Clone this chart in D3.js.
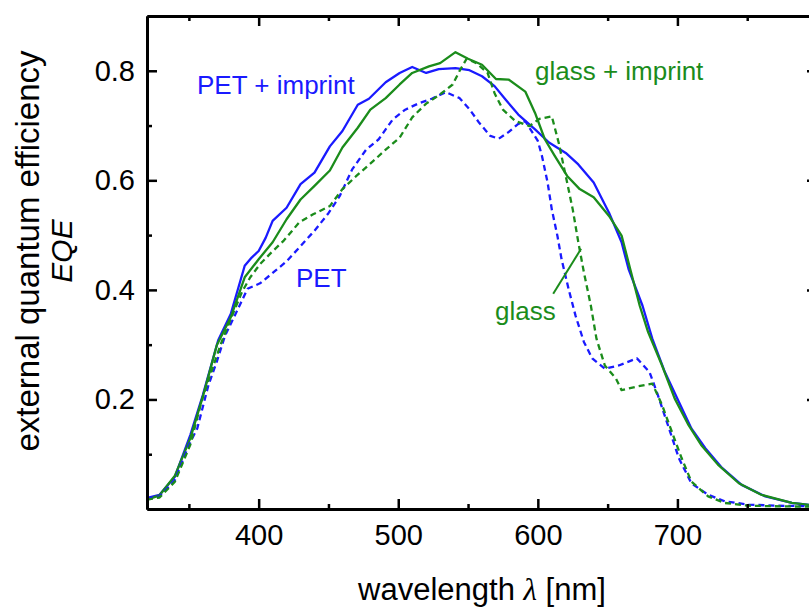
<!DOCTYPE html>
<html>
<head>
<meta charset="utf-8">
<script src="https://cdn.jsdelivr.net/npm/d3@7"></script>
<style>
  body { margin: 0; background: #fff; }
  svg { display: block; }
  .axis path, .axis line { stroke: #000; }
  .axis text { font-family: 'Liberation Sans', Arial, sans-serif; fill: #000; }
</style>
</head>
<body>
<svg id="chart" width="809" height="607"></svg>
<script>
// PET + imprint (blue solid)
const petImprintNm = [320, 329, 340, 351, 360, 371, 380, 390, 395, 400, 405, 410, 420, 430, 440, 451, 460, 471, 479, 491, 501, 510, 520, 529, 541, 551, 560, 569, 577, 586, 598, 608, 620, 629, 640, 651, 660, 665, 675, 682, 691, 701, 710, 720, 732, 746, 763, 782, 800]
const petImprintEqe = [0.020, 0.026, 0.059, 0.135, 0.208, 0.308, 0.356, 0.444, 0.459, 0.471, 0.495, 0.526, 0.550, 0.593, 0.614, 0.662, 0.690, 0.738, 0.749, 0.779, 0.796, 0.807, 0.796, 0.803, 0.805, 0.801, 0.790, 0.772, 0.747, 0.720, 0.693, 0.669, 0.650, 0.629, 0.596, 0.541, 0.487, 0.438, 0.371, 0.311, 0.250, 0.196, 0.147, 0.111, 0.075, 0.044, 0.023, 0.011, 0.006]

// glass + imprint (green solid)
const glassImprintNm = [320, 329, 340, 351, 360, 370, 380, 390, 400, 410, 420, 430, 440, 451, 460, 471, 480, 491, 501, 510, 522, 530, 541, 550, 560, 570, 579, 591, 598, 605, 612, 621, 630, 640, 651, 660, 666, 673, 679, 689, 698, 708, 717, 729, 744, 760, 782, 800]
const glassImprintEqe = [0.017, 0.025, 0.061, 0.129, 0.205, 0.299, 0.350, 0.423, 0.456, 0.487, 0.529, 0.565, 0.590, 0.618, 0.660, 0.696, 0.729, 0.750, 0.775, 0.796, 0.808, 0.814, 0.834, 0.822, 0.811, 0.785, 0.784, 0.762, 0.723, 0.675, 0.645, 0.608, 0.584, 0.569, 0.535, 0.499, 0.440, 0.371, 0.323, 0.262, 0.202, 0.153, 0.117, 0.081, 0.047, 0.026, 0.011, 0.006]

// PET (blue dashed)
const petNm = [320, 329, 340, 350, 356, 364, 370, 376, 384, 392, 401, 412, 420, 430, 440, 450, 458, 467, 477, 486, 496, 505, 515, 524, 534, 544, 551, 558, 566, 572, 579, 586, 591, 600, 603, 607, 610, 614, 617, 622, 627, 633, 639, 648, 658, 671, 680, 686, 694, 701, 710, 722, 734, 751, 770, 800]
const petEqe = [0.019, 0.023, 0.053, 0.117, 0.147, 0.226, 0.269, 0.317, 0.359, 0.402, 0.412, 0.435, 0.452, 0.480, 0.508, 0.540, 0.571, 0.620, 0.656, 0.675, 0.711, 0.729, 0.741, 0.749, 0.761, 0.750, 0.730, 0.705, 0.681, 0.676, 0.688, 0.703, 0.708, 0.672, 0.644, 0.596, 0.547, 0.499, 0.456, 0.402, 0.353, 0.305, 0.275, 0.256, 0.262, 0.275, 0.250, 0.208, 0.147, 0.093, 0.047, 0.026, 0.014, 0.008, 0.006, 0.005]

// glass (green dashed)
const glassNm = [320, 329, 340, 351, 359, 366, 373, 380, 388, 394, 401, 409, 418, 429, 439, 451, 460, 470, 482, 491, 501, 510, 520, 529, 539, 544, 549, 556, 564, 569, 575, 584, 594, 601, 610, 615, 620, 625, 629, 633, 638, 642, 648, 656, 660, 670, 682, 689, 696, 703, 710, 722, 734, 751, 770, 800]
const glassEqe = [0.017, 0.021, 0.050, 0.117, 0.196, 0.250, 0.302, 0.347, 0.396, 0.423, 0.447, 0.468, 0.490, 0.523, 0.538, 0.553, 0.584, 0.608, 0.635, 0.656, 0.678, 0.715, 0.740, 0.755, 0.775, 0.800, 0.822, 0.814, 0.796, 0.759, 0.729, 0.708, 0.699, 0.712, 0.717, 0.668, 0.608, 0.547, 0.487, 0.432, 0.371, 0.311, 0.262, 0.238, 0.217, 0.223, 0.229, 0.190, 0.141, 0.093, 0.050, 0.023, 0.011, 0.006, 0.005, 0.004]

// ticks
const xMajorTicks = [400, 500, 600, 700]
const xMinorTicks = [350, 450, 550, 650, 750]
const yMajorTicks = [0.2, 0.4, 0.6, 0.8]
const yMinorTicks = [0.1, 0.3, 0.5, 0.7]

const blue = '#1a1aff'
const green = '#1b8c1b'
const font = "'Liberation Sans', Arial, sans-serif"

const svg = d3.select('#chart')

// plot area: the right frame edge sits just outside the picture
const plotLeft = 147
const plotRight = 817
const plotTop = 16
const plotBottom = 509

const x = d3.scaleLinear().domain([320, 800]).range([plotLeft, plotRight])
const y = d3.scaleLinear().domain([0, 0.9]).range([plotBottom, plotTop])

svg.append('defs').append('clipPath').attr('id', 'plot-clip')
  .append('rect')
  .attr('x', plotLeft).attr('y', plotTop)
  .attr('width', plotRight - plotLeft).attr('height', plotBottom - plotTop)

// curves
const series = [
  { nm: petImprintNm, eqe: petImprintEqe, color: blue, dash: null },
  { nm: glassImprintNm, eqe: glassImprintEqe, color: green, dash: null },
  { nm: petNm, eqe: petEqe, color: blue, dash: '6,4' },
  { nm: glassNm, eqe: glassEqe, color: green, dash: '6,4' },
]

const line = d3.line()
  .x(d => x(d[0]))
  .y(d => y(d[1]))

const curves = svg.append('g').attr('clip-path', 'url(#plot-clip)')

curves.selectAll('path')
  .data(series)
  .enter()
  .append('path')
  .attr('d', s => line(s.nm.map((n, i) => [n, s.eqe[i]])))
  .attr('fill', 'none')
  .attr('stroke', s => s.color)
  .attr('stroke-width', 2.3)
  .attr('stroke-dasharray', s => s.dash)
  .attr('stroke-linejoin', 'round')

// axes: ticks point inwards, labels only on bottom and left
const styleAxis = (g) => {
  g.attr('class', 'axis')
  g.select('.domain').attr('stroke-width', 3)
  g.selectAll('.tick line').attr('stroke-width', 2.5)
}

svg.append('g')
  .attr('transform', `translate(0,${plotBottom})`)
  .call(d3.axisBottom(x).tickValues(xMajorTicks).tickSize(-10).tickSizeOuter(0).tickPadding(15).tickFormat(d3.format('d')))
  .call(styleAxis)
  .selectAll('text')
  .attr('font-size', '29px')
  .attr('font-family', font)

svg.append('g')
  .attr('transform', `translate(0,${plotBottom})`)
  .call(d3.axisBottom(x).tickValues(xMinorTicks).tickSize(-5).tickSizeOuter(0).tickFormat(''))
  .call(styleAxis)

svg.append('g')
  .attr('transform', `translate(0,${plotTop})`)
  .call(d3.axisTop(x).tickValues(xMajorTicks).tickSize(-10).tickSizeOuter(0).tickFormat(''))
  .call(styleAxis)

svg.append('g')
  .attr('transform', `translate(0,${plotTop})`)
  .call(d3.axisTop(x).tickValues(xMinorTicks).tickSize(-5).tickSizeOuter(0).tickFormat(''))
  .call(styleAxis)

svg.append('g')
  .attr('transform', `translate(${plotLeft},0)`)
  .call(d3.axisLeft(y).tickValues(yMajorTicks).tickSize(-10).tickSizeOuter(0).tickPadding(12).tickFormat(d3.format('.1f')))
  .call(styleAxis)
  .selectAll('text')
  .attr('font-size', '29px')
  .attr('font-family', font)

svg.append('g')
  .attr('transform', `translate(${plotLeft},0)`)
  .call(d3.axisLeft(y).tickValues(yMinorTicks).tickSize(-5).tickSizeOuter(0).tickFormat(''))
  .call(styleAxis)

svg.append('g')
  .attr('transform', `translate(${plotRight},0)`)
  .call(d3.axisRight(y).tickValues(yMajorTicks).tickSize(-10).tickSizeOuter(0).tickFormat(''))
  .call(styleAxis)

svg.append('g')
  .attr('transform', `translate(${plotRight},0)`)
  .call(d3.axisRight(y).tickValues(yMinorTicks).tickSize(-5).tickSizeOuter(0).tickFormat(''))
  .call(styleAxis)

// axis titles
const xTitle = svg.append('text')
  .attr('x', 482)
  .attr('y', 600)
  .attr('text-anchor', 'middle')
  .attr('font-family', font)
  .attr('font-size', '31px')
  .attr('fill', '#000')
xTitle.append('tspan').text('wavelength ')
xTitle.append('tspan').text('λ').attr('font-style', 'italic').attr('font-family', "'Liberation Serif', 'Times New Roman', serif")
xTitle.append('tspan').text(' [nm]')

const yTitle = svg.append('g').attr('transform', 'translate(0,251) rotate(-90)')
yTitle.append('text')
  .attr('x', 0)
  .attr('y', 39)
  .attr('text-anchor', 'middle')
  .attr('font-family', font)
  .attr('font-size', '33px')
  .text('external quantum efficiency')
yTitle.append('text')
  .attr('x', 0)
  .attr('y', 72)
  .attr('text-anchor', 'middle')
  .attr('font-family', font)
  .attr('font-size', '30px')
  .attr('font-style', 'italic')
  .text('EQE')

// curve labels
const labels = [
  { text: 'PET + imprint', x: 197, y: 94, color: blue },
  { text: 'glass + imprint', x: 535, y: 80, color: green },
  { text: 'PET', x: 296, y: 287, color: blue },
  { text: 'glass', x: 495, y: 320, color: green },
]

svg.selectAll('.curve-label')
  .data(labels)
  .enter()
  .append('text')
  .attr('class', 'curve-label')
  .attr('x', d => d.x)
  .attr('y', d => d.y)
  .attr('font-family', font)
  .attr('font-size', '26px')
  .attr('fill', d => d.color)
  .text(d => d.text)

// pointer from "glass" to its dashed curve
svg.append('line')
  .attr('x1', x(611)).attr('y1', y(0.393))
  .attr('x2', x(631)).attr('y2', y(0.475))
  .attr('stroke', green)
  .attr('stroke-width', 2)
</script>
</body>
</html>
